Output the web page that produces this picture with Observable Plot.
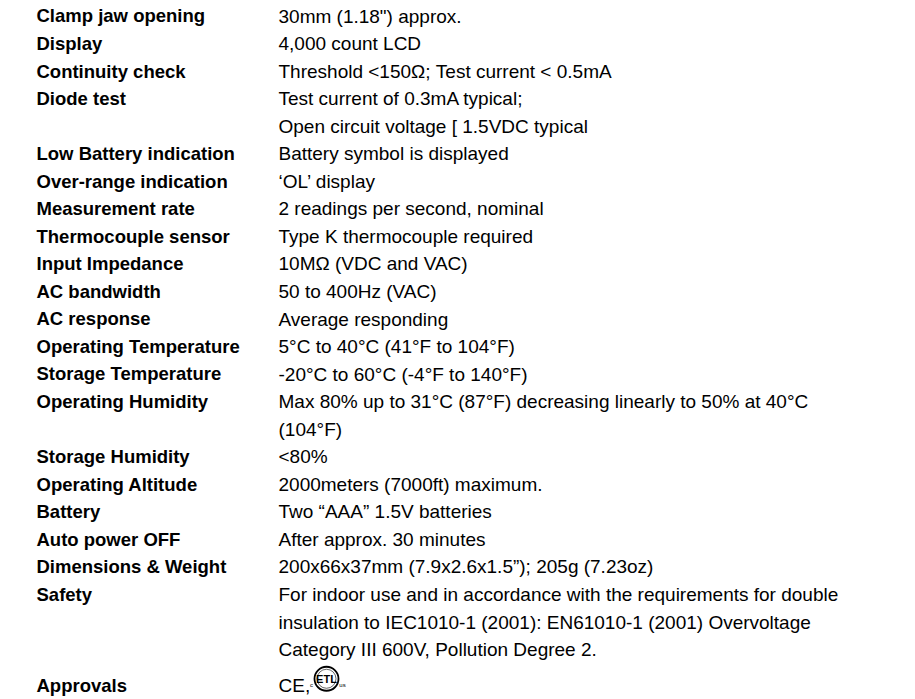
<!DOCTYPE html>
<html>
<head>
<meta charset="utf-8">
<script src="https://cdn.jsdelivr.net/npm/d3@7"></script>
<script src="https://cdn.jsdelivr.net/npm/@observablehq/plot@0.6"></script>
<style>
  html, body { margin: 0; padding: 0; background: #fff; }
</style>
</head>
<body>
<div id="chart"></div>
<script>
// Specification labels (left column), "" = continuation line
const labels = [
  "Clamp jaw opening", "Display", "Continuity check", "Diode test", "",
  "Low Battery indication", "Over-range indication", "Measurement rate",
  "Thermocouple sensor", "Input Impedance", "AC bandwidth", "AC response",
  "Operating Temperature", "Storage Temperature", "Operating Humidity", "",
  "Storage Humidity", "Operating Altitude", "Battery", "Auto power OFF",
  "Dimensions & Weight", "Safety", "", "", "Approvals"
];
// Specification values (right column)
const values = [
  "30mm (1.18\") approx.",
  "4,000 count LCD",
  "Threshold <150Ω; Test current < 0.5mA",
  "Test current of 0.3mA typical;",
  "Open circuit voltage [ 1.5VDC typical",
  "Battery symbol is displayed",
  "‘OL’ display",
  "2 readings per second, nominal",
  "Type K thermocouple required",
  "10MΩ (VDC and VAC)",
  "50 to 400Hz (VAC)",
  "Average responding",
  "5°C to 40°C (41°F to 104°F)",
  "-20°C to 60°C (-4°F to 140°F)",
  "Max 80% up to 31°C (87°F) decreasing linearly to 50% at 40°C",
  "(104°F)",
  "<80%",
  "2000meters (7000ft) maximum.",
  "Two “AAA” 1.5V batteries",
  "After approx. 30 minutes",
  "200x66x37mm (7.9x2.6x1.5”); 205g (7.23oz)",
  "For indoor use and in accordance with the requirements for double",
  "insulation to IEC1010-1 (2001): EN61010-1 (2001) Overvoltage",
  "Category III 600V, Pollution Degree 2.",
  "CE,"
];
// Line position of each row (in line units)
const rowPos = [0,1,2,3,4,5,6,7,8,9,10,11,12,13,14,15,16,17,18,19,20,21,22,23,24.3];
// Columns
const columns = ["label", "value"];
// Approval mark (ETL listed logo) text parts
const logoParts = [
  {text: "ETL", dx: 48, dy: -6, size: 11, weight: "bold"},
  {text: "c", dx: 33, dy: -1, size: 6, weight: "normal"},
  {text: "us", dx: 64, dy: -1, size: 6, weight: "normal"}
];

const rows = labels.map((l, i) => ({label: l, value: values[i], pos: rowPos[i]}));
const approvalRow = rows[rows.length - 1];

const plot = Plot.plot({
  width: 915,
  height: 699,
  margin: 0,
  x: {type: "point", domain: columns, range: [36, 278], padding: 0, align: 0, axis: null},
  y: {type: "linear", domain: [0, 24], range: [16, 677], axis: null},
  style: {fontFamily: "'Liberation Sans', Arial, sans-serif", color: "#000", background: "#fff"},
  marks: [
    Plot.text(rows.filter(d => d.label), {
      x: () => "label", y: "pos", text: "label",
      textAnchor: "start", lineAnchor: "middle",
      fontWeight: "bold", fontSize: 18.5, fill: "#000"
    }),
    Plot.text(rows, {
      x: () => "value", y: "pos", text: "value",
      textAnchor: "start", lineAnchor: "middle",
      fontSize: 19, fill: "#000"
    }),
    Plot.dot([approvalRow], {
      x: () => "value", y: "pos", dx: 48, dy: -7, r: 12,
      stroke: "#000", strokeWidth: 1.8, fill: "none"
    }),
    Plot.dot([approvalRow], {
      x: () => "value", y: "pos", dx: 48, dy: -7, r: 9.5,
      stroke: "#000", strokeWidth: 0.6, fill: "none"
    }),
    ...logoParts.map(p => Plot.text([approvalRow], {
      x: () => "value", y: "pos", text: () => p.text,
      dx: p.dx, dy: p.dy, fontSize: p.size, fontWeight: p.weight,
      textAnchor: "middle", lineAnchor: "middle", fill: "#000"
    }))
  ]
});
document.getElementById("chart").appendChild(plot);
</script>
</body>
</html>
